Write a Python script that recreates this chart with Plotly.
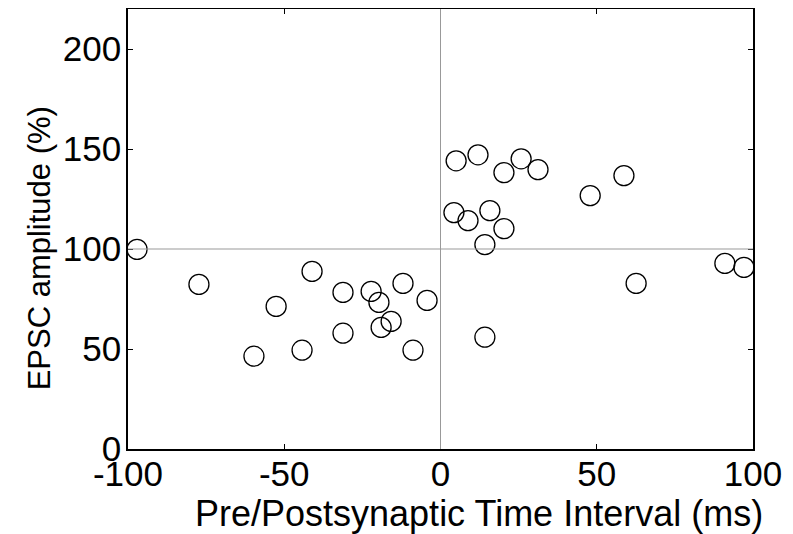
import plotly.graph_objects as go

# Data
interval_ms = [-97.1, -77.3, -52.6, -59.7, -41.1, -44.3, -31.2, -31.2, -22.2, -19.7,
               -19.0, -15.8, -12.0, -8.8, -4.3, 14.2, 4.3, 8.8, 14.2, 15.8,
               20.3, 5.0, 12.0, 20.3, 25.8, 31.2, 47.9, 58.7, 62.6, 91.0, 97.1]
epsc_amp = [99.8, 82.3, 71.3, 46.4, 88.8, 49.4, 78.3, 57.9, 78.8, 73.3,
            60.8, 63.8, 82.8, 49.4, 74.3, 55.9, 118.2, 114.2, 102.2, 119.2,
            110.2, 144.1, 147.1, 138.2, 145.1, 139.7, 126.7, 136.7, 82.8, 92.8, 90.8]

x_ticks = [-100, -50, 0, 50, 100]
y_ticks = [0, 50, 100, 150, 200]
x_title = "Pre/Postsynaptic Time Interval (ms)"
y_title = "EPSC amplitude (%)"

FONT = "Arial, Liberation Sans, sans-serif"

fig = go.Figure()
fig.add_trace(go.Scatter(
    x=interval_ms, y=epsc_amp, mode="markers",
    marker=dict(symbol="circle-open", size=20, color="black", line=dict(width=1.3, color="black")),
    showlegend=False, cliponaxis=False,
))

fig.add_hline(y=100, line=dict(color="#999999", width=1))
fig.add_vline(x=0, line=dict(color="#999999", width=1))

axis_common = dict(
    showline=True, linecolor="black", linewidth=1.5, mirror="ticks",
    ticks="inside", ticklen=5, tickcolor="black", tickwidth=1,
    showgrid=False, zeroline=False,
    tickfont=dict(family=FONT, size=35, color="black"),
)

fig.update_xaxes(range=[-100, 100], tickvals=x_ticks, ticktext=[str(v) for v in x_ticks],
                 ticklabelstandoff=-7, **axis_common)
fig.update_yaxes(range=[0, 220], tickvals=y_ticks, ticktext=[str(v) for v in y_ticks],
                 ticklabelstandoff=-2, **axis_common)

fig.add_annotation(text=x_title, xref="paper", yref="paper", x=0.5616, y=-0.1475,
                   xanchor="center", yanchor="middle", showarrow=False,
                   font=dict(family=FONT, size=36, color="black"))
fig.add_annotation(text=y_title, xref="paper", yref="paper", x=-0.141, y=0.4557,
                   xanchor="center", yanchor="middle", showarrow=False, textangle=-90,
                   font=dict(family=FONT, size=31, color="black"))

fig.update_layout(
    width=793, height=534,
    margin=dict(l=120, r=48, t=1, b=93, autoexpand=False),
    paper_bgcolor="white", plot_bgcolor="white",
    font=dict(family=FONT, color="black"),
)

fig.write_html("out.html")
